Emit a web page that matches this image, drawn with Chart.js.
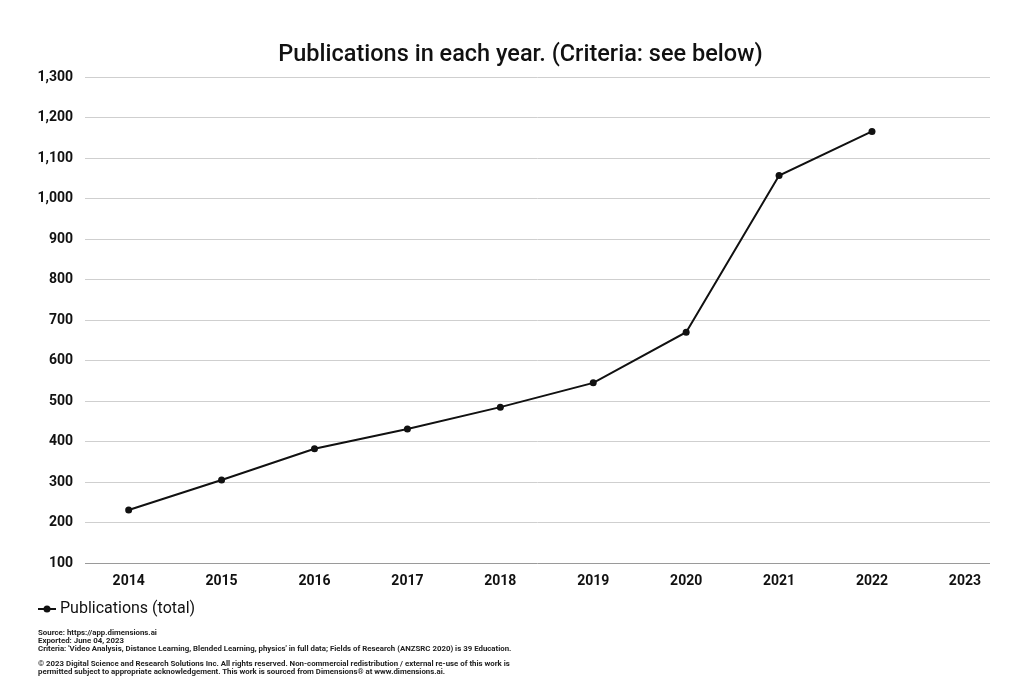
<!DOCTYPE html>
<html>
<head>
<meta charset="utf-8">
<script src="https://cdn.jsdelivr.net/npm/chart.js@4/dist/chart.umd.min.js"></script>
<style>
  html, body { margin: 0; padding: 0; background: #fff; }
  #wrap { position: relative; width: 1009px; height: 691px; }
  #footer { position: absolute; left: 38px; top: 629px; font-family: Roboto, sans-serif;
            font-weight: 700; font-size: 7.85px; line-height: 7.8px; color: #222; white-space: nowrap; }
  #footer p { margin: 0; }
  #footer .gap { margin-top: 8px; }
</style>
</head>
<body>
<div id="wrap">
  <canvas id="pubChart" width="1009" height="691"></canvas>
  <div id="footer">
    <p>Source: https://app.dimensions.ai</p>
    <p>Exported: June 04, 2023</p>
    <p>Criteria: 'Video Analysis, Distance Learning, Blended Learning, physics' in full data; Fields of Research (ANZSRC 2020) is 39 Education.</p>
    <p class="gap">© 2023 Digital Science and Research Solutions Inc. All rights reserved. Non-commercial redistribution / external re-use of this work is</p>
    <p>permitted subject to appropriate acknowledgement. This work is sourced from Dimensions® at www.dimensions.ai.</p>
  </div>
</div>
<script>
// years on the x axis
var years = [2014, 2015, 2016, 2017, 2018, 2019, 2020, 2021, 2022, 2023];
// publications per year (2023 has no point)
var publications = [231, 305, 382, 431, 485, 545, 670, 1057, 1166];
var yTicks = [100, 200, 300, 400, 500, 600, 700, 800, 900, 1000, 1100, 1200, 1300];

var points = publications.map(function(v, i) {
    return { x: years[i], y: v };
});

// legend marker: line with a dot, like the sheets legend
function legendMarker() {
    var c = document.createElement('canvas');
    c.width = 18; c.height = 10;
    var g = c.getContext('2d');
    g.strokeStyle = '#111';
    g.lineWidth = 2;
    g.beginPath(); g.moveTo(0, 5); g.lineTo(18, 5); g.stroke();
    g.fillStyle = '#111';
    g.beginPath(); g.arc(9, 5, 3.5, 0, Math.PI * 2); g.fill();
    return c;
}

// nudge title and legend sideways to where the original has them
var nudgeBoxes = {
    id: 'nudgeBoxes',
    afterLayout: function(chart) {
        if (chart.titleBlock) chart.titleBlock.left += 51;
        if (chart.legend) chart.legend.left += 38;
    }
};

var ctx = document.getElementById('pubChart').getContext('2d');

var chart = new Chart(ctx, {
    type: 'line',
    data: {
        datasets: [{
            label: 'Publications (total)',
            data: points,
            borderColor: '#111',
            backgroundColor: '#111',
            borderWidth: 2,
            pointRadius: 3.5,
            pointBackgroundColor: '#111',
            pointBorderWidth: 0,
            tension: 0
        }]
    },
    plugins: [nudgeBoxes],
    options: {
        responsive: false,
        animation: false,
        layout: { padding: { top: 41, right: 19, bottom: 64, left: 0 } },
        plugins: {
            title: {
                display: true,
                text: 'Publications in each year. (Criteria: see below)',
                color: '#111',
                font: { family: 'Roboto', size: 23.5, weight: '500' },
                padding: { top: 0, bottom: 8 }
            },
            legend: {
                position: 'bottom',
                align: 'start',
                labels: {
                    usePointStyle: true,
                    pointStyle: legendMarker(),
                    pointStyleWidth: 10,
                    color: '#111',
                    font: { family: 'Roboto', size: 16 },
                    padding: 4
                }
            },
            tooltip: { enabled: false }
        },
        scales: {
            x: {
                type: 'linear',
                min: 2013.53,
                max: 2023.27,
                afterBuildTicks: function(axis) {
                    axis.ticks = years.map(function(y) { return { value: y }; });
                },
                afterFit: function(axis) { axis.height = 34; },
                grid: { display: false },
                border: { display: false },
                ticks: {
                    color: '#111',
                    padding: 2,
                    maxRotation: 0,
                    font: { family: 'Roboto', size: 14, weight: 'bold' },
                    callback: function(v) { return String(v); }
                }
            },
            y: {
                min: 100,
                max: 1300,
                afterBuildTicks: function(axis) {
                    axis.ticks = yTicks.map(function(v) { return { value: v }; });
                },
                afterFit: function(axis) { axis.width = 85; },
                grid: {
                    color: function(c) { return c.tick && c.tick.value === 100 ? '#9a9a9a' : '#cfcfcf'; },
                    lineWidth: 1,
                    drawTicks: false
                },
                border: { display: false },
                ticks: {
                    color: '#111',
                    padding: 12,
                    font: { family: 'Roboto', size: 14, weight: 'bold' }
                }
            }
        }
    }
});
</script>
</body>
</html>
